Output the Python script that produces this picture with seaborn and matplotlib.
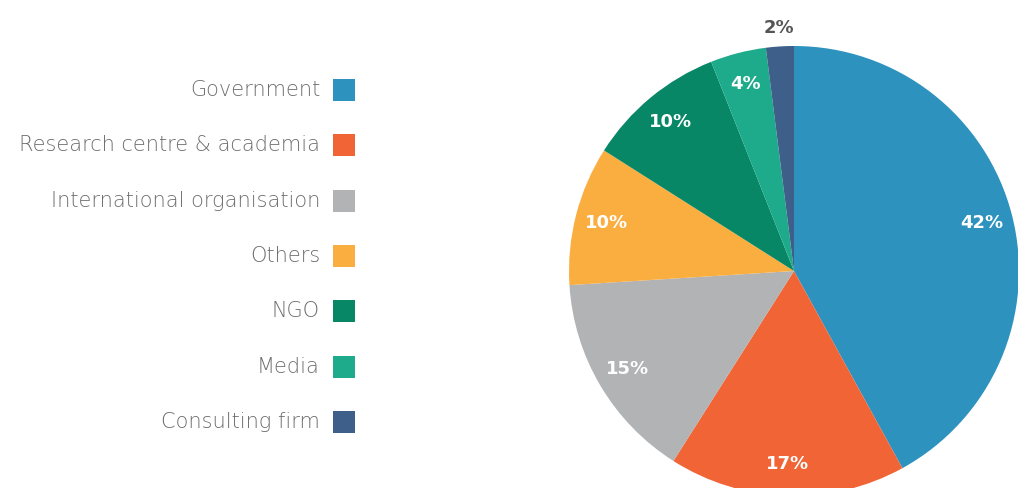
import matplotlib
matplotlib.use("Agg")
import matplotlib.pyplot as plt
import seaborn as sns
import numpy as np

# data
sectors = ["Government", "Research centre & academia", "International organisation",
           "Others", "NGO", "Media", "Consulting firm"]
shares = [42, 17, 15, 10, 10, 4, 2]
colours = ["#2e92bf", "#f16436", "#b2b3b5", "#fbae40", "#078766", "#1eab8c", "#3d5f8a"]

sns.set_theme(style="white")
plt.rcParams['font.family'] = ['DejaVu Sans']
palette = sns.color_palette(colours)

fig = plt.figure(figsize=(10.18, 4.88), dpi=100)

# pie, centre around (794, 271) px, radius 225 px
ax = fig.add_axes([569 / 1018, (488 - 271 - 225) / 488, 450 / 1018, 450 / 488])
wedges, texts, autotexts = ax.pie(
    shares, colors=palette, startangle=90, counterclock=False,
    autopct=lambda p: f"{p:.0f}%", pctdistance=0.86,
    wedgeprops=dict(linewidth=0),
    textprops=dict(color="white", fontsize=13, fontweight="bold"))
ax.set_xlim(-1, 1)
ax.set_ylim(-1, 1)
ax.set_aspect("equal")
ax.axis("off")

# smallest slice gets its label outside
w = wedges[-1]
ang = np.deg2rad((w.theta1 + w.theta2) / 2)
autotexts[-1].set_position((1.08 * np.cos(ang), 1.08 * np.sin(ang)))
autotexts[-1].set_color("#555555")

# legend on the left, text right aligned, swatch on the right
lax = fig.add_axes([0, (488 - 449.5) / 488, 360 / 1018, 387 / 488])
lax.set_xlim(0, 360)
lax.set_ylim(len(sectors) - 0.5, -0.5)
lax.axis("off")
for i, (name, c) in enumerate(zip(sectors, palette)):
    lax.scatter(344, i, marker="s", s=250, color=c, linewidths=0)
    lax.text(320, i, name, ha="right", va="center", fontsize=15,
             fontweight="light", color="#6e6e6e")

fig.savefig("out.png", dpi=100)
